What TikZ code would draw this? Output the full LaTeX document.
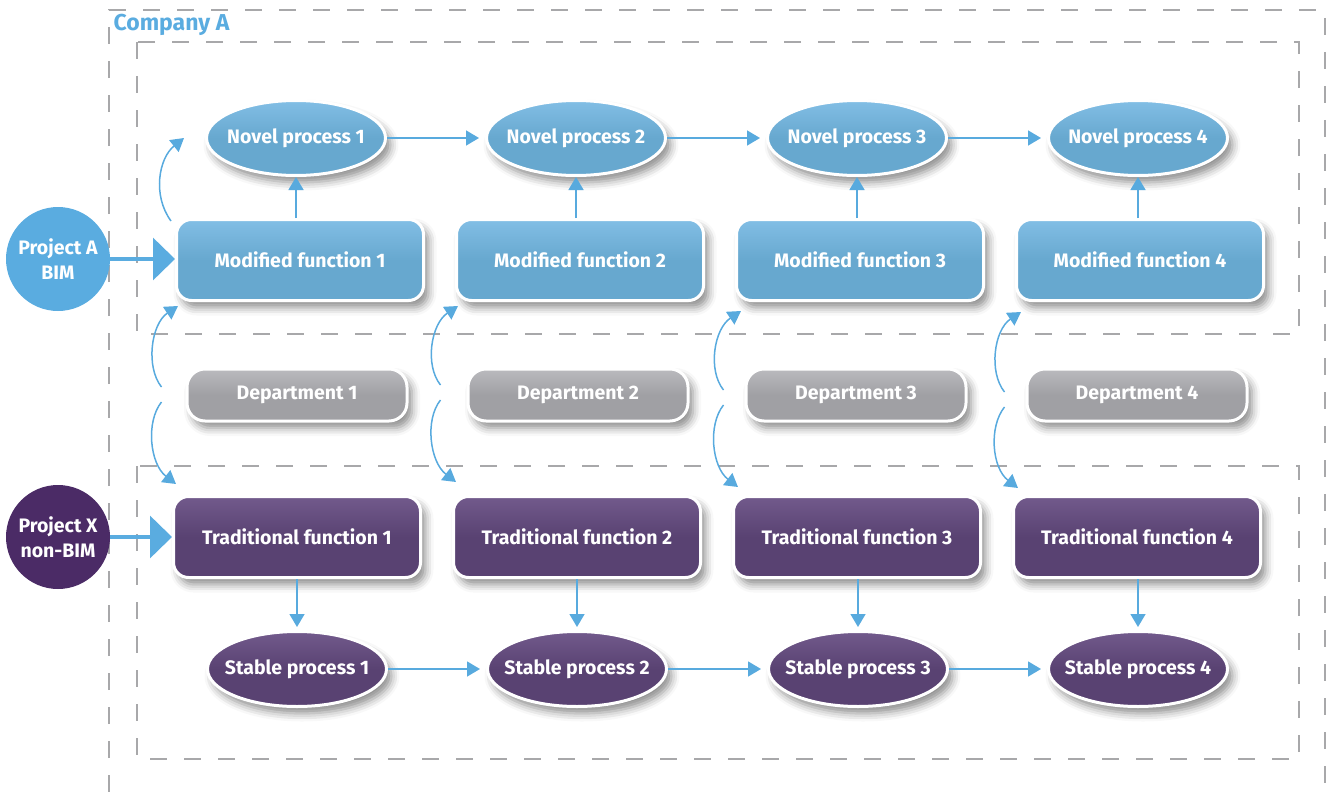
\documentclass[tikz,border=0pt]{standalone}
\usepackage{fontspec}
\setmainfont{Fira Sans}
\usetikzlibrary{arrows.meta, positioning, calc, shapes.geometric, shadows.blur}
\definecolor{bimblue}{RGB}{90,172,224}
\definecolor{nodeblue}{RGB}{103,168,207}
\definecolor{nodebluetop}{RGB}{130,190,229}
\definecolor{nodepurple}{RGB}{89,66,114}
\definecolor{nodepurpletop}{RGB}{114,90,140}
\definecolor{projpurple}{RGB}{75,43,102}
\definecolor{deptgray}{RGB}{160,160,164}
\definecolor{deptgraytop}{RGB}{186,186,190}
\definecolor{dashgray}{RGB}{168,168,170}
\definecolor{arrowblue}{RGB}{88,170,222}

\tikzset{
  nodetext/.style={text=white, font=\bfseries\fontsize{19.5}{25}\selectfont},
  soft/.style={blur shadow={shadow xshift=5pt, shadow yshift=-7pt, shadow blur radius=8pt, shadow opacity=45}},
  funcbox/.style={nodetext, soft, draw=white, line width=3pt, rounded corners=15pt,
    minimum width=247pt, minimum height=81pt},
  modbox/.style={funcbox, top color=nodebluetop, bottom color=nodeblue, middle color=nodeblue},
  tradbox/.style={funcbox, top color=nodepurpletop, bottom color=nodepurple, middle color=nodepurple},
  deptbox/.style={nodetext, soft, draw=white, line width=3pt, rounded corners=18pt,
    minimum width=220pt, minimum height=52pt,
    top color=deptgraytop, bottom color=deptgray, middle color=deptgray},
  procell/.style={nodetext, soft, ellipse, draw=white, line width=3pt, inner xsep=-10pt,
    minimum width=179pt, minimum height=75pt},
  novel/.style={procell, top color=nodebluetop, bottom color=nodeblue, middle color=nodeblue},
  stable/.style={procell, top color=nodepurpletop, bottom color=nodepurple, middle color=nodepurple},
  project/.style={nodetext, circle, minimum size=104pt, align=center, inner sep=0pt},
  dashline/.style={draw=dashgray, line width=1.6pt, dash pattern=on 17pt off 17pt},
  arr/.style={-{Triangle[length=13pt,width=15pt]}, draw=arrowblue, line width=1.5pt},
  bigarr/.style={-{Triangle[length=22pt,width=42pt]}, draw=bimblue, line width=3.5pt}
}

\begin{document}
\begin{tikzpicture}[x=1pt, y=-1pt]
  \useasboundingbox (0,0) rectangle (1336,792);
  % company and the two groups
  \draw[dashline] (109,792) -- (109,10) -- (1325,10) -- (1325,792);
  \draw[dashline] (137,42) rectangle (1299,334);
  \draw[dashline] (137,466) rectangle (1299,759);
  \node[anchor=west, text=bimblue, font=\bfseries\fontsize{23}{26}\selectfont] (company) at (110,25) {Company A};

  % BIM side
  \node[novel] (nov1) at (296,138) {Novel process 1};
  \node[novel] (nov2) at (576,138) {Novel process 2};
  \node[novel] (nov3) at (857,138) {Novel process 3};
  \node[novel] (nov4) at (1138,138) {Novel process 4};
  \node[modbox] (mod1) at (300,260) {Modified function 1};
  \node[modbox] (mod2) at (580,260) {Modified function 2};
  \node[modbox] (mod3) at (860,260) {Modified function 3};
  \node[modbox] (mod4) at (1140,260) {Modified function 4};

  % departments
  \node[deptbox] (dep1) at (297,395) {Department 1};
  \node[deptbox] (dep2) at (578,395) {Department 2};
  \node[deptbox] (dep3) at (856,395) {Department 3};
  \node[deptbox] (dep4) at (1137,395) {Department 4};

  % non-BIM side
  \node[tradbox] (trad1) at (297,537) {Traditional function 1};
  \node[tradbox] (trad2) at (577,537) {Traditional function 2};
  \node[tradbox] (trad3) at (857,537) {Traditional function 3};
  \node[tradbox] (trad4) at (1137,537) {Traditional function 4};
  \node[stable] (stab1) at (297,669) {Stable process 1};
  \node[stable] (stab2) at (577,669) {Stable process 2};
  \node[stable] (stab3) at (858,669) {Stable process 3};
  \node[stable] (stab4) at (1138,669) {Stable process 4};

  % projects
  \node[project, fill=bimblue] (projA) at (58,259) {Project A\\BIM};
  \node[project, fill=projpurple] (projX) at (58,537) {Project X\\non-BIM};
  \draw[bigarr] (projA) -- (mod1.west |- projA);
  \draw[bigarr] (projX) -- (trad1.west |- projX);

  % process chains
  \draw[arr, shorten >=6pt] (nov1) -- (nov2);
  \draw[arr, shorten >=6pt] (nov2) -- (nov3);
  \draw[arr, shorten >=6pt] (nov3) -- (nov4);
  \draw[arr, shorten >=6pt] (stab1) -- (stab2);
  \draw[arr, shorten >=6pt] (stab2) -- (stab3);
  \draw[arr, shorten >=6pt] (stab3) -- (stab4);
  \draw[arr] (mod1.north -| nov1.south) -- (nov1.south);
  \draw[arr] (mod2.north -| nov2.south) -- (nov2.south);
  \draw[arr] (mod3.north -| nov3.south) -- (nov3.south);
  \draw[arr] (mod4.north -| nov4.south) -- (nov4.south);
  \draw[arr, shorten >=3pt] (trad1.south -| stab1.north) -- (stab1.north);
  \draw[arr, shorten >=3pt] (trad2.south -| stab2.north) -- (stab2.north);
  \draw[arr, shorten >=3pt] (trad3.south -| stab3.north) -- (stab3.north);
  \draw[arr, shorten >=3pt] (trad4.south -| stab4.north) -- (stab4.north);
  \draw[arr] ($(mod1.north west)+(-4,3)$) .. controls +(-19,-26) and +(-25,20) .. ($(nov1.west)+(-21,0)$);

  % department links
  \coordinate (up1) at ($(dep1.west)+(-24,-8)$);
  \coordinate (lo1) at ($(dep1.west)+(-24,7)$);
  \coordinate (up2) at ($(dep2.west)+(-26,-10)$);
  \coordinate (lo2) at ($(dep2.west)+(-26,5)$);
  \coordinate (up3) at ($(dep3.west)+(-21,-5)$);
  \coordinate (lo3) at ($(dep3.west)+(-21,10)$);
  \coordinate (up4) at ($(dep4.west)+(-21,-3)$);
  \coordinate (lo4) at ($(dep4.west)+(-21,12)$);
  \draw[arr] (up1) .. controls +(-16,-20) and +(-27,18) .. ($(mod1.south west)+(3,4)$);
  \draw[arr] (lo1) .. controls +(-16,20) and +(-26,-20) .. ($(trad1.north west)+(4,-11)$);
  \draw[arr] (up2) .. controls +(-16,-20) and +(-27,18) .. ($(mod2.south west)+(3,4)$);
  \draw[arr] (lo2) .. controls +(-16,20) and +(-26,-20) .. ($(trad2.north west)+(4,-13)$);
  \draw[arr] (up3) .. controls +(-16,-20) and +(-27,18) .. ($(mod3.south west)+(6,9)$);
  \draw[arr] (lo3) .. controls +(-16,20) and +(-26,-20) .. ($(trad3.north west)+(6,-8)$);
  \draw[arr] (up4) .. controls +(-16,-20) and +(-27,18) .. ($(mod4.south west)+(6,10)$);
  \draw[arr] (lo4) .. controls +(-16,20) and +(-26,-20) .. ($(trad4.north west)+(6,-7)$);
\end{tikzpicture}
\end{document}
